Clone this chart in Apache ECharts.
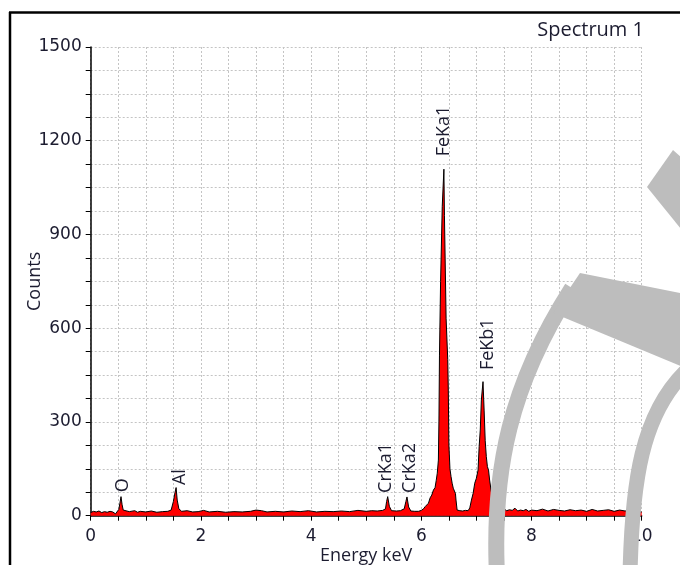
<!DOCTYPE html>
<html>
<head>
<meta charset="utf-8">
<script src="https://cdn.jsdelivr.net/npm/echarts@6/dist/echarts.min.js"></script>
<style>
html,body{margin:0;padding:0;background:#fff;}
#c{width:680px;height:565px;}
</style>
</head>
<body>
<div id="c"></div>
<script>
// Spectrum data (energy in keV, counts)
var energy = [
0.00,0.05,0.10,0.15,0.20,0.25,0.30,0.35,0.40,0.45,0.48,0.51,0.53,0.55,0.57,0.59,0.62,0.70,0.80,0.85,0.90,1.00,1.10,1.20,1.30,1.40,1.46,1.50,1.53,1.55,1.57,1.60,1.65,1.75,1.85,1.95,
2.05,2.15,2.30,2.45,2.60,2.75,2.90,3.00,3.10,3.20,3.35,3.50,3.65,3.80,3.95,4.10,4.25,4.40,4.55,4.70,4.85,5.00,5.10,5.20,5.30,5.35,5.37,5.39,5.42,5.46,5.55,5.62,5.69,5.72,5.74,5.77,5.81,5.88,5.95,
6.00,6.04,6.07,6.10,6.13,6.16,6.19,6.22,6.25,6.27,6.29,6.31,6.32,6.33,6.35,6.38,6.41,6.42,6.44,6.45,6.48,6.49,6.50,6.52,6.54,6.56,6.58,6.60,6.62,6.63,6.65,6.70,6.75,6.80,6.85,
6.88,6.91,6.94,6.97,7.00,7.03,7.05,7.07,7.09,7.12,7.14,7.16,7.18,7.20,7.22,7.24,7.27,7.30,7.33,7.36,7.40,7.45,7.50,7.55,7.60,7.65,7.70,7.75,7.80,7.85,7.90,7.95,
8.00,8.10,8.20,8.30,8.40,8.50,8.60,8.70,8.80,8.90,9.00,9.10,9.20,9.30,9.40,9.50,9.60,9.70,9.80,9.90,10.00
];
var counts = [
10,14,12,15,10,13,11,14,12,6,12,20,40,61,35,18,12,13,16,11,14,12,15,11,13,14,18,45,74,90,50,22,14,16,12,13,
17,12,14,11,13,12,14,18,16,12,14,12,15,13,16,12,14,13,15,13,17,14,16,15,17,22,45,61,30,16,15,16,22,45,60,28,15,14,14,
17,22,29,35,40,57,66,82,90,112,136,178,300,514,749,990,1109,960,960,632,500,402,230,150,125,104,88,82,71,50,18,16,15,17,16,
25,50,71,104,120,146,221,274,370,429,338,240,189,157,146,114,77,66,45,18,20,17,22,16,19,17,24,15,18,16,20,14,
18,16,21,15,20,17,15,19,16,18,14,20,15,17,19,14,18,15,20,13,12
];

// Peak labels
var peakNames = ['O','Al','CrKa1','CrKa2','FeKa1','FeKb1'];
var peakEnergy = [0.59,1.61,5.35,5.79,6.41,7.20];
var peakLabelBase = [75,98,73,73,1150,466];

// Axis tick labels
var xTickLabels = [0,2,4,6,8,10];
var yTickLabels = [0,300,600,900,1200,1500];

var spectrum = energy.map(function(e,i){return [e,counts[i]];});
var peaks = peakNames.map(function(n,i){return [peakEnergy[i],peakLabelBase[i],n];});

var chart = echarts.init(document.getElementById('c'));
var txt = '#1c1c30';
var tickFont = {fontFamily:'DejaVu Sans',fontSize:17,color:txt};
var wm = '#bdbdbd';
chart.setOption({
  animation:false,
  backgroundColor:'#ffffff',
  grid:{left:90.7,top:47,right:38.3,bottom:49.3,containLabel:false,outerBoundsMode:'none'},
  title:{text:'Spectrum 1',right:31,top:15,textStyle:{fontFamily:'Open Sans',fontSize:20,fontWeight:'normal',color:txt}},
  xAxis:{
    type:'value',min:0,max:10,interval:0.5,
    name:'Energy keV',nameLocation:'middle',nameGap:31,nameMoveOverlap:false,
    nameTextStyle:{fontFamily:'Open Sans',fontSize:18,color:txt},
    axisLine:{show:true,onZero:false,lineStyle:{color:'#000',width:1.5}},
    axisTick:{show:true,inside:false,length:5,lineStyle:{color:'#000'}},
    axisLabel:Object.assign({margin:12,formatter:function(v){return xTickLabels.indexOf(v)>=0?String(v):'';}},tickFont),
    splitLine:{show:true,lineStyle:{color:'#c4c4c4',type:[2,2],width:1}}
  },
  yAxis:{
    type:'value',min:0,max:1500,interval:75,
    name:'Counts',nameLocation:'middle',nameGap:47,nameRotate:90,nameMoveOverlap:false,
    nameTextStyle:{fontFamily:'Open Sans',fontSize:18,color:txt},
    axisLine:{show:true,lineStyle:{color:'#000',width:1.5}},
    axisTick:{show:true,inside:false,length:5,lineStyle:{color:'#000'}},
    axisLabel:Object.assign({margin:9,formatter:function(v){return yTickLabels.indexOf(v)>=0?String(v):'';}},tickFont),
    splitLine:{show:true,lineStyle:{color:'#c4c4c4',type:[2,2],width:1}}
  },
  graphic:[
    {type:'line',shape:{x1:9,y1:12.5,x2:680,y2:12.5},style:{stroke:'#000',lineWidth:2.5},z:100},
    {type:'line',shape:{x1:10,y1:12,x2:10,y2:565},style:{stroke:'#000',lineWidth:2.5},z:100},
    {type:'bezierCurve',shape:{x1:572,y1:288,cpx1:510,cpy1:385,cpx2:492,cpy2:470,x2:497,y2:575},style:{stroke:wm,lineWidth:16,fill:null},z:90},
    {type:'polygon',shape:{points:[[580,273],[690,295],[690,370],[553,313]]},style:{fill:wm},z:90},
    {type:'bezierCurve',shape:{x1:685,y1:372,cpx1:642,cpy1:415,cpx2:632,cpy2:480,x2:630,y2:575},style:{stroke:wm,lineWidth:15,fill:null},z:90},
    {type:'polygon',shape:{points:[[673,150],[690,165],[690,240],[647,187]]},style:{fill:wm},z:90}
  ],
  series:[
    {type:'line',data:spectrum,showSymbol:false,symbol:'none',
     lineStyle:{color:'#000',width:1},
     areaStyle:{color:'#ff0000',opacity:1,origin:'start'},
     z:3,silent:true},
    {type:'scatter',data:peaks,symbolSize:0,silent:true,z:4,
     label:{show:true,position:[0,0],formatter:function(p){return p.data[2];},
       rotate:90,align:'left',verticalAlign:'middle',
       fontFamily:'Open Sans',fontSize:18,color:txt,opacity:1}}
  ]
});
</script>
</body>
</html>
